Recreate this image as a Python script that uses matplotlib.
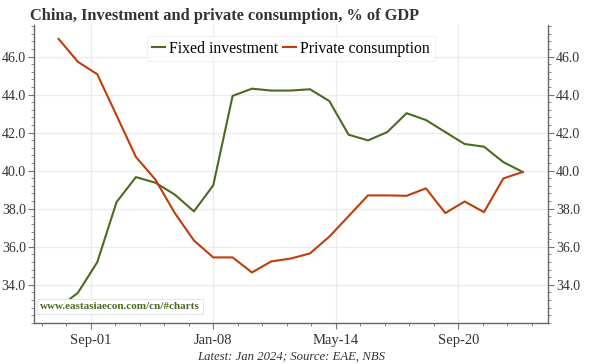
import numpy as np
import matplotlib
matplotlib.use("Agg")
import matplotlib.pyplot as plt  # noqa: E402
from matplotlib.ticker import FixedLocator, FuncFormatter  # noqa: E402

# annual points, plotted at January of each year
years = list(range(2000, 2025))
fixed_inv = [32.8, 33.58, 35.19, 38.35, 39.66, 39.37, 38.75, 37.86, 39.23, 43.93,
             44.31, 44.21, 44.21, 44.28, 43.66, 41.89, 41.59, 42.03, 43.02, 42.66,
             42.03, 41.40, 41.26, 40.45, 39.93]
private_cons = [46.93, 45.72, 45.07, 42.9, 40.72, 39.54, 37.79, 36.33, 35.44, 35.44,
                34.65, 35.23, 35.38, 35.65, 36.53, 37.61, 38.70, 38.70, 38.68, 39.07,
                37.77, 38.38, 37.82, 39.59, 39.93]

xtick_pos = [2001 + 8 / 12, 2008.0, 2014 + 4 / 12, 2020 + 8 / 12]
xtick_labels = ["Sep-01", "Jan-08", "May-14", "Sep-20"]

GREEN = "#4b6a22"
ORANGE = "#c13c0b"
plt.rcParams["font.family"] = ["Liberation Serif", "DejaVu Serif"]

fig = plt.figure(figsize=(6.0, 3.64), dpi=100)
ax = fig.add_axes([0.057, 0.113, 0.856, 0.818])

ax.plot(years, fixed_inv, color=GREEN, lw=1.5, label="Fixed investment", zorder=3)
ax.plot(years, private_cons, color=ORANGE, lw=1.5, label="Private consumption", zorder=3)

ax.set_xlim(1998.74, 2025.3)
ax.set_ylim(32.0, 47.65)

ax.xaxis.set_major_locator(FixedLocator(xtick_pos))
ax.set_xticklabels(xtick_labels)
step = (xtick_pos[1] - xtick_pos[0]) / 5
minors = np.arange(xtick_pos[0] - 3 * step, 2025.3, step)
ax.xaxis.set_minor_locator(FixedLocator(minors))

ax.yaxis.set_major_locator(FixedLocator(np.arange(34, 47, 2)))
ax.yaxis.set_minor_locator(FixedLocator(np.arange(32.0, 47.7, 0.4)))
ax.yaxis.set_major_formatter(FuncFormatter(lambda v, p: f"{v:.1f}"))
ax.tick_params(axis="y", which="both", left=True, right=True,
               labelleft=True, labelright=True)
ax.tick_params(which="major", length=4, color="#777", labelsize=10, labelcolor="#333", pad=2)
ax.tick_params(which="minor", length=2.5, color="#777")
ax.tick_params(axis="x", which="major", labelsize=10.5, pad=4)

for s in ["left", "right", "bottom"]:
    ax.spines[s].set_color("#666")
    ax.spines[s].set_linewidth(1)
ax.spines["top"].set_visible(False)
ax.grid(True, which="major", color="#ebebeb", lw=0.9, zorder=0)

leg = ax.legend(loc="upper center", bbox_to_anchor=(0.5, 0.99), ncol=2, fontsize=11.3,
                frameon=True, fancybox=False, handlelength=0.8, handletextpad=0.3,
                columnspacing=0.3, borderpad=0.3)
leg.get_frame().set_edgecolor("#eeeeee")
leg.get_frame().set_linewidth(0.8)

ax.text(0.012, 0.055, "www.eastasiaecon.com/cn/#charts", transform=ax.transAxes,
        fontsize=8, fontweight="bold", color="#4b6a22", va="center", ha="left", zorder=5,
        bbox=dict(facecolor="white", edgecolor="#e6e6e6", lw=0.8, boxstyle="square,pad=0.3"))

fig.text(0.05, 0.955, "China, Investment and private consumption, % of GDP",
         fontsize=11.8, fontweight="bold", color="#333", va="center", ha="left")
fig.text(0.485, 0.02, "Latest: Jan 2024; Source: EAE, NBS", fontsize=9.2,
         style="italic", color="#333", ha="center", va="center")

fig.savefig("out.png", dpi=100)
